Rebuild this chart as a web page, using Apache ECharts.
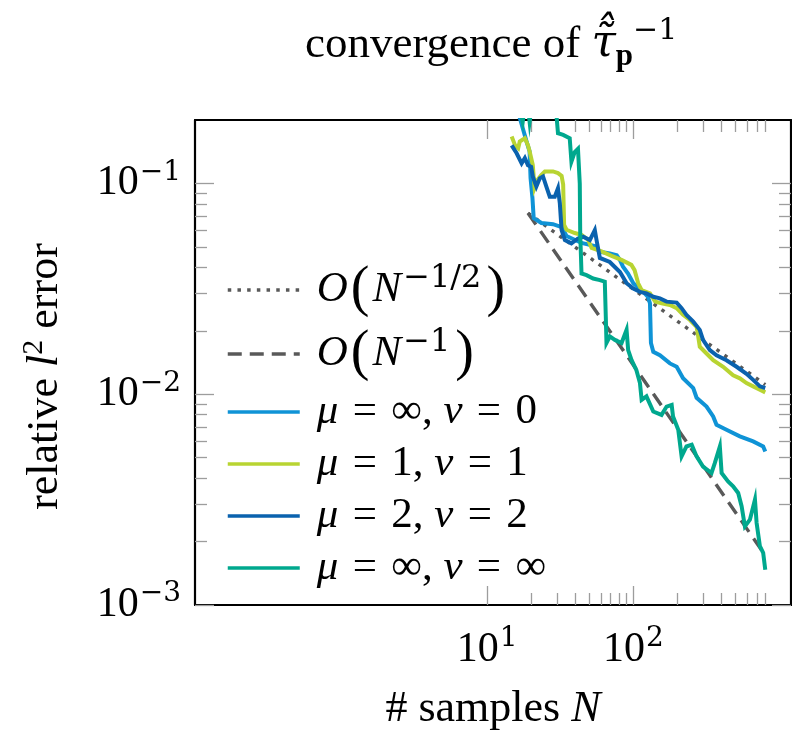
<!DOCTYPE html>
<html>
<head>
<meta charset="utf-8">
<script src="https://cdn.jsdelivr.net/npm/echarts@6/dist/echarts.min.js"></script>
<style>
  html, body { margin: 0; padding: 0; background: #fff; }
  #chart { width: 792px; height: 744px; }
</style>
</head>
<body>
<div id="chart"></div>
<script>
// guide lines: start and end point
const slopeHalf = [[19, 0.0724], [800, 0.0111]]
const slopeOne = [[19, 0.0724], [800, 0.00172]]

// relative l2 error against number of samples N
const muInfNu0 = [
  [14, 0.26], [16.7, 0.205], [18.6, 0.158], [19.5, 0.142], [19.8, 0.106], [20.4, 0.0852],
  [20.8, 0.0685], [23.5, 0.0649], [28.2, 0.0641], [32.3, 0.062], [34.9, 0.0563], [44.2, 0.0522],
  [54.5, 0.0505], [59, 0.0474], [69, 0.0466], [77, 0.0457], [81, 0.0433], [85, 0.0403],
  [92, 0.0374], [100, 0.0336], [117, 0.0306], [126, 0.029], [130, 0.027], [132, 0.0175],
  [137, 0.0159], [152, 0.0153], [178, 0.014], [198, 0.0135], [219, 0.0119], [257, 0.0107],
  [271, 0.00962], [317, 0.00874], [352, 0.00784], [371, 0.00716], [434, 0.00678], [536, 0.00631],
  [661, 0.00597], [774, 0.00565], [800, 0.00535]
]
const muOneNu1 = [
  [14.7, 0.167], [15.5, 0.152], [16.3, 0.147], [16.7, 0.158], [18.1, 0.164], [19, 0.152],
  [19.5, 0.142], [20.5, 0.1225], [21.1, 0.0953], [22.2, 0.1045], [23.5, 0.11], [24.8, 0.114],
  [28.2, 0.114], [30.5, 0.112], [32.3, 0.1087], [33.1, 0.0988], [33.6, 0.0636], [34.9, 0.0603],
  [39.7, 0.0582], [44.2, 0.0571], [49, 0.0541], [51.8, 0.0494], [60.6, 0.0476], [71, 0.0453],
  [83, 0.0434], [97, 0.0411], [102, 0.0388], [108, 0.0336], [114, 0.0312], [130, 0.0301],
  [141, 0.0275], [156, 0.027], [178, 0.0265], [198, 0.0256], [219, 0.0238], [244, 0.0225],
  [271, 0.0209], [278, 0.0188], [285, 0.0168], [317, 0.0156], [352, 0.0145], [412, 0.0135],
  [482, 0.0123], [536, 0.0119], [595, 0.0113], [661, 0.0109], [735, 0.0105], [800, 0.0102]
]
const muTwoNu2 = [
  [14.7, 0.1515], [15.9, 0.139], [17.2, 0.1245], [18.1, 0.132], [19, 0.122], [20, 0.12],
  [20.5, 0.108], [21.7, 0.0967], [22.9, 0.1058], [24.1, 0.108], [25.4, 0.0967], [26.8, 0.0865],
  [29, 0.0865], [30.5, 0.0948], [31.4, 0.0805], [32.3, 0.0601], [34, 0.0539], [37.7, 0.052],
  [41.8, 0.0548], [45.3, 0.0559], [50.4, 0.0539], [54.5, 0.0601], [56, 0.0539], [59, 0.0443],
  [69, 0.0424], [81, 0.038], [90, 0.0336], [100, 0.0317], [111, 0.0306], [123, 0.0301],
  [137, 0.029], [152, 0.0285], [169, 0.0275], [198, 0.0272], [214, 0.0256], [231, 0.0238],
  [257, 0.0221], [285, 0.0202], [300, 0.0181], [334, 0.0162], [371, 0.0153], [434, 0.0145],
  [509, 0.0135], [595, 0.0125], [661, 0.0117], [735, 0.0109], [800, 0.0107]
]
const muInfNuInf = [
  [14, 0.3], [17, 0.215], [17.5, 0.196], [18.2, 0.24], [19, 0.23], [19.5, 0.196], [20.5, 0.25],
  [29.8, 0.21], [30.5, 0.173], [33.1, 0.17], [36.7, 0.164], [37.7, 0.127], [39.7, 0.141],
  [41.8, 0.146], [43, 0.1], [43.3, 0.058], [44.2, 0.0374], [47.8, 0.0367], [53.1, 0.0354],
  [59, 0.0348], [63.8, 0.0342], [64.8, 0.0233], [65.5, 0.0175], [69.1, 0.0188], [74.8, 0.0181],
  [83.1, 0.0175], [89.9, 0.0202], [92.2, 0.0162], [97.3, 0.0145], [105, 0.013], [111, 0.0113],
  [114, 0.0094], [123, 0.00977], [137, 0.00828], [156, 0.00798], [169, 0.00874], [183, 0.0089],
  [187, 0.00784], [203, 0.00678], [214, 0.00507], [231, 0.00565], [251, 0.00576], [271, 0.00507],
  [300, 0.00454], [343, 0.00423], [361, 0.00471], [391, 0.00565], [402, 0.00423], [445, 0.00386],
  [482, 0.00366], [522, 0.0034], [551, 0.00294], [580, 0.00236], [628, 0.00254], [680, 0.00316],
  [698, 0.00245], [735, 0.0019], [774, 0.00177], [800, 0.00147]
]

// ticks
const xMajorTicks = [10, 100]
const xMinorTicks = [20, 30, 40, 50, 60, 70, 80, 90, 200, 300, 400, 500, 600, 700, 800]
const yMajorTicks = [0.001, 0.01, 0.1]
const yMinorTicks = [0.002, 0.003, 0.004, 0.005, 0.006, 0.007, 0.008, 0.009,
  0.02, 0.03, 0.04, 0.05, 0.06, 0.07, 0.08, 0.09]

const serif = "'Liberation Serif', 'DejaVu Serif', serif"
const supFont = "'DejaVu Serif', serif"
const tickGrey = '#9d9d9d'

const tickRich = {
  b: { fontFamily: serif, fontSize: 42, lineHeight: 44 },
  s: { fontFamily: supFont, fontSize: 28, lineHeight: 30, padding: [0, 0, 22, 1] }
}
const nameRich = {
  i: { fontFamily: serif, fontStyle: 'italic', fontSize: 44 },
  s: { fontFamily: serif, fontSize: 30, lineHeight: 30, padding: [0, 0, 22, 0] }
}
const legendRich = {
  i: { fontFamily: serif, fontStyle: 'italic', fontSize: 43, lineHeight: 44 },
  s: { fontFamily: supFont, fontSize: 32, lineHeight: 30, padding: [0, 2, 22, 2] },
  p: { fontFamily: serif, fontSize: 56, lineHeight: 44, padding: [0, 3, 0, 3] }
}

const legendText = {
  half: '{i|O}{p|(}{i|N}{s|−1/2}{p|)}',
  one: '{i|O}{p|(}{i|N}{s|−1}{p|)}',
  nu0: '{i|μ}\u2004=\u2004∞, {i|ν}\u2004=\u20040',
  nu1: '{i|μ}\u2004=\u20041, {i|ν}\u2004=\u20041',
  nu2: '{i|μ}\u2004=\u20042, {i|ν}\u2004=\u20042',
  nuinf: '{i|μ}\u2004=\u2004∞, {i|ν}\u2004=\u2004∞'
}

function logAxis(kind, position, ticks, len, withLine) {
  const isX = kind === 'x'
  return {
    type: 'log',
    logBase: 10,
    position: position,
    min: isX ? 0.1 : 0.001,
    max: isX ? 1200 : 0.2,
    axisLine: { show: withLine, lineStyle: { color: '#000', width: 2.2 } },
    axisTick: { show: true, inside: true, length: len, customValues: ticks,
      lineStyle: { color: tickGrey, width: 1.3 } },
    axisLabel: { show: false },
    splitLine: { show: false }
  }
}

const xBottom = logAxis('x', 'bottom', xMajorTicks, 19, true)
xBottom.axisLabel = {
  show: true, customValues: xMajorTicks, margin: 23, color: '#000',
  formatter: v => '{b|10}{s|' + Math.round(Math.log10(v)) + '}',
  rich: tickRich
}
xBottom.name = '# samples {i|N}'
xBottom.nameLocation = 'middle'
xBottom.nameGap = 82
xBottom.nameTextStyle = { fontFamily: serif, fontSize: 44, color: '#000', rich: nameRich }

const yLeft = logAxis('y', 'left', yMajorTicks, 19, true)
yLeft.axisLabel = {
  show: true, customValues: yMajorTicks, margin: 14, color: '#000',
  formatter: v => '{b|10}{s|−' + Math.round(-Math.log10(v)) + '}',
  rich: tickRich
}
yLeft.name = 'relative {i|l}{s|2} error'
yLeft.nameLocation = 'middle'
yLeft.nameGap = 128
yLeft.nameRotate = 90
yLeft.nameTextStyle = { fontFamily: serif, fontSize: 44, color: '#000', rich: nameRich, padding: [0, 28, 0, 0] }

function lineSeries(name, data, color, width, type) {
  return {
    name: name,
    type: 'line',
    data: data,
    xAxisIndex: 0,
    yAxisIndex: 0,
    showSymbol: false,
    symbol: 'none',
    lineStyle: { color: color, width: width, type: type || 'solid', cap: 'butt', join: 'miter' },
    itemStyle: { color: color },
    emphasis: { disabled: true }
  }
}

const chart = echarts.init(document.getElementById('chart'))
chart.setOption({
  animation: false,
  backgroundColor: '#fff',
  title: {
    text: 'convergence of {t|τ\u0303\u0302}{d|p}{e|−1}',
    left: 300,
    top: 16,
    textStyle: {
      fontFamily: serif, fontSize: 45, fontWeight: 'normal', color: '#000', lineHeight: 48,
      rich: {
        t: { fontFamily: "'DejaVu Serif', serif", fontStyle: 'italic', fontSize: 44, lineHeight: 48 },
        d: { fontFamily: serif, fontWeight: 'bold', fontSize: 31, lineHeight: 30, padding: [24, 0, 0, 0] },
        e: { fontFamily: supFont, fontSize: 30, lineHeight: 30, padding: [0, 0, 28, 0] }
      }
    }
  },
  grid: { left: 195, right: 1, top: 120, bottom: 139, containLabel: false },
  legend: {
    orient: 'vertical',
    left: 226,
    top: 262,
    itemWidth: 72,
    itemHeight: 16,
    itemGap: 8,
    padding: 0,
    selectedMode: false,
    itemStyle: { opacity: 0 },
    lineStyle: { width: 3.5 },
    data: ['half', 'one', 'nu0', 'nu1', 'nu2', 'nuinf'],
    formatter: name => legendText[name],
    textStyle: { fontFamily: serif, fontSize: 43, lineHeight: 44, color: '#000', padding: [0, 0, 0, 12], rich: legendRich }
  },
  xAxis: [
    xBottom,
    logAxis('x', 'bottom', xMinorTicks, 12, false),
    logAxis('x', 'top', xMajorTicks, 19, true),
    logAxis('x', 'top', xMinorTicks, 12, false)
  ],
  yAxis: [
    yLeft,
    logAxis('y', 'left', yMinorTicks, 12, false),
    logAxis('y', 'right', yMajorTicks, 19, true),
    logAxis('y', 'right', yMinorTicks, 12, false)
  ],
  series: [
    lineSeries('half', slopeHalf, '#595959', 3.4, [3.5, 6.2]),
    lineSeries('one', slopeOne, '#595959', 3.4, [14, 8]),
    lineSeries('nu0', muInfNu0, '#0f93d6', 4),
    lineSeries('nu1', muOneNu1, '#b8d432', 4),
    lineSeries('nu2', muTwoNu2, '#0a62ae', 4),
    lineSeries('nuinf', muInfNuInf, '#00a88e', 4)
  ]
})
</script>
</body>
</html>
